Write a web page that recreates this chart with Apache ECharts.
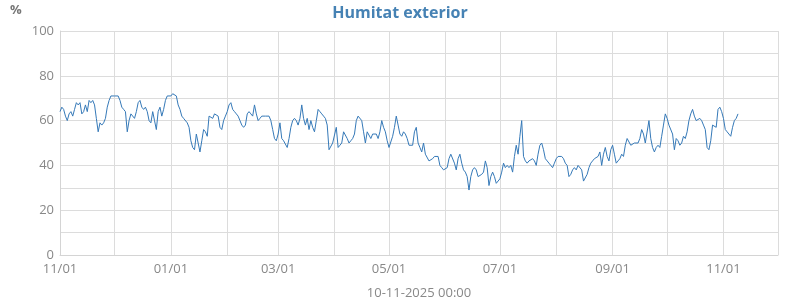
<!DOCTYPE html>
<html>
<head>
<meta charset="utf-8">
<script src="https://cdn.jsdelivr.net/npm/echarts@6/dist/echarts.min.js"></script>
<style>html,body{margin:0;padding:0;background:#fff}#c{width:800px;height:300px}</style>
</head>
<body>
<div id="c"></div>
<script>
const titleText = 'Humitat exterior';
const unitText = '%';
const footerText = '10-11-2025 00:00';
const startDate = '2024-11-01';
const endDate = '2025-12-01';
const labelMonths = ['01', '03', '05', '07', '09', '11'];
const yTicks = [0, 20, 40, 60, 80, 100];

// daily outdoor humidity (%), from 2024-11-01
const humNovJan = [64,66,65,62,60,63,64,62,65,68,67,68,63,64,67,64,69,68,69,67,
  61,55,59,58,59,61,66,69,71,71,71,71,71,69,66,65,64,55,60,63,
  63,61,64,68,69,66,65,66,64,60,59,64,60,56,64,66,62,65,69,71,
  71,71,72,72,71,67,65,62,61,61,59,57,51,48];
const humJanMar = [47,54,50,46,51,56,55,53,62,62,61,63,63,62,57,56,60,62,64,67,
  68,65,64,63,62,60,58,57,58,63,64,63,62,67,63,60,61,62,62,62,
  62,62,60,56,52,51,54,59,52,51,51,48,52,57,60,61,60,58,61,67,
  61,58,61,56,60,57,55,60,65,64,63,62,61,58];
const humAprJun = [47,47,50,50,57,48,49,50,55,55,52,50,51,52,54,60,62,62,60,55,
  50,55,55,52,54,54,54,52,55,60,57,55,51,48,48,53,57,62,58,54,
  53,55,54,52,49,49,49,55,57,50,48,46,50,45,45,42,42,43,44,44,
  44,40,39,38,38,39,43,45,45,41,38,43,45];
const humJunAug = [41,38,37,35,29,35,38,39,38,35,35,36,37,42,39,31,35,37,35,32,
  32,34,37,41,39,40,39,40,37,44,49,45,53,60,44,42,41,42,42,43,
  42,40,45,49,50,47,43,42,41,40,39,41,43,44,44,44,43,41,40,35,
  36,38,39,38,40,40,38,33,33,36,39,41,42,43,43,44];
const humAugNov = [46,40,45,48,44,42,47,49,45,41,42,43,45,44,49,52,52,49,49,50,
  50,50,52,56,54,50,50,60,52,48,46,48,49,48,53,58,63,61,58,58,
  54,47,52,51,49,50,53,52,55,60,63,65,62,60,60,61,60,58,56,48,
  47,51,58,58,57,65,66,64,61,56,55,54,53,57,60,61,63];

const humidity = [].concat(humNovJan, humJanMar, humAprJun, humJunAug, humAugNov);

const dates = [];
for (let t = new Date(startDate + 'T00:00:00Z'); t <= new Date(endDate + 'T00:00:00Z'); t.setUTCDate(t.getUTCDate() + 1)) {
  dates.push(t.toISOString().slice(0, 10));
}
const isMonthStart = (v) => v.slice(8, 10) === '01';

const FONT = 'Open Sans';
const chart = echarts.init(document.getElementById('c'), null, { renderer: 'canvas' });
chart.setOption({
  animation: false,
  backgroundColor: '#ffffff',
  textStyle: { fontFamily: FONT },
  title: [
    { text: titleText, left: 'center', top: 0,
      textStyle: { color: '#4682b4', fontSize: 16, fontWeight: 'bold', fontFamily: FONT } },
    { text: unitText, left: 5, top: -1,
      textStyle: { color: '#777777', fontSize: 13, fontWeight: 'bold', fontFamily: FONT } }
  ],
  grid: { left: 60, right: 22, top: 31, bottom: 45, containLabel: false, outerBoundsMode: 'none' },
  xAxis: {
    type: 'category',
    data: dates,
    boundaryGap: false,
    name: footerText,
    nameLocation: 'middle',
    nameGap: 32,
    nameTextStyle: { color: '#888888', fontSize: 13, fontFamily: FONT },
    axisLine: { show: true, lineStyle: { color: '#d4d4d4', width: 1 } },
    axisTick: { show: false },
    axisLabel: {
      color: '#888888', fontSize: 13, margin: 8, fontFamily: FONT,
      interval: (i, v) => isMonthStart(v) && labelMonths.includes(v.slice(5, 7)),
      formatter: (v) => v.slice(5, 7) + '/' + v.slice(8, 10)
    },
    splitLine: { show: true, interval: (i, v) => isMonthStart(v), lineStyle: { color: '#dcdcdc', width: 1 } }
  },
  yAxis: {
    type: 'value',
    min: 0, max: 100, interval: 10,
    axisLine: { show: true, lineStyle: { color: '#d4d4d4', width: 1 } },
    axisTick: { show: false },
    axisLabel: {
      color: '#888888', fontSize: 13, margin: 6, fontFamily: FONT,
      formatter: (v) => (yTicks.includes(v) ? String(v) : '')
    },
    splitLine: { show: true, lineStyle: { color: '#dcdcdc', width: 1 } }
  },
  series: [{
    type: 'line',
    data: humidity,
    showSymbol: false,
    symbol: 'none',
    lineStyle: { color: '#3579b8', width: 1 },
    itemStyle: { color: '#3579b8' }
  }]
});
</script>
</body>
</html>
